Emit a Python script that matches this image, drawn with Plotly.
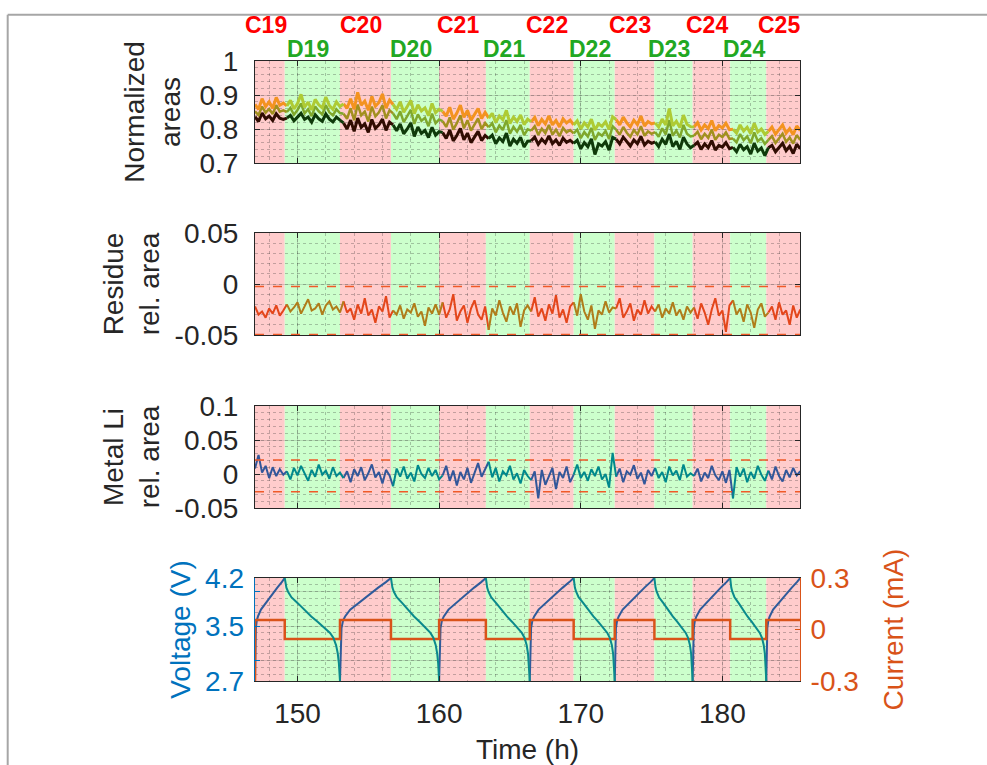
import numpy as np
import plotly.graph_objects as go

# ---------------- data ----------------
phase_names = ["C19", "D19", "C20", "D20", "C21", "D21", "C22", "D22", "C23", "D23", "C24", "D24", "C25"]
phase_bounds = [147.0, 149.1, 153.0, 156.6, 160.0, 163.3, 166.4, 169.5, 172.4, 175.2, 177.9, 180.55, 183.1, 185.5]
t_start = 147.0
t_step = 0.25
x_range = [147.0, 185.48]
x_tickvals = [150, 160, 170, 180]

# normalized areas (x1e-3), one list per phase
area_high = [
    [872, 858, 889, 866, 880, 861, 893, 870, 876],
    [868, 884, 859, 875, 902, 864, 879, 856, 887, 871, 862, 894, 869, 858, 880, 866],
    [874, 861, 889, 858, 908, 870, 882, 855, 896, 867, 878, 903, 861, 885],
    [872, 858, 880, 849, 866, 884, 845, 871, 853, 862, 839, 875, 848, 858],
    [852, 838, 864, 829, 847, 870, 834, 855, 826, 845, 860, 831, 849],
    [832, 846, 819, 838, 827, 855, 816, 835, 822, 841, 813, 829],
    [821, 834, 810, 828, 815, 839, 812, 825, 806, 830, 818, 826],
    [812, 824, 800, 818, 806, 829, 797, 815, 808, 821, 799, 836],
    [828, 812, 835, 818, 806, 826, 813, 838, 809, 822, 815],
    [818, 806, 829, 812, 860, 809, 823, 804, 841, 814, 807],
    [806, 819, 797, 812, 801, 825, 795, 810, 803, 817, 798],
    [799, 788, 812, 794, 805, 786, 817, 791, 800, 784],
    [793, 806, 785, 799, 812, 788, 801, 783, 809, 795],
]
area_mid = [
    [852, 841, 866, 848, 859, 844, 870, 851, 855],
    [850, 862, 842, 856, 875, 846, 858, 838, 866, 852, 843, 870, 849, 840, 858, 847],
    [845, 830, 861, 826, 872, 840, 851, 822, 866, 837, 849, 870, 831, 855],
    [846, 829, 852, 820, 838, 856, 815, 843, 824, 833, 808, 845, 817, 828],
    [823, 806, 834, 798, 817, 840, 802, 826, 795, 814, 831, 800, 818],
    [805, 817, 790, 810, 797, 826, 786, 806, 792, 812, 782, 799],
    [795, 808, 783, 801, 788, 812, 784, 798, 779, 803, 790, 797],
    [787, 798, 773, 791, 778, 803, 768, 788, 780, 794, 771, 808],
    [798, 783, 806, 789, 777, 797, 784, 808, 780, 793, 786],
    [791, 777, 802, 784, 826, 780, 795, 775, 812, 786, 778],
    [780, 792, 770, 786, 774, 798, 768, 783, 776, 790, 771],
    [772, 761, 785, 767, 778, 758, 790, 764, 773, 756],
    [768, 779, 759, 773, 786, 762, 775, 757, 782, 768],
]
area_low = [
    [836, 822, 847, 830, 838, 825, 845, 832, 828],
    [832, 840, 824, 836, 846, 828, 835, 820, 842, 830, 823, 844, 829, 821, 835, 826],
    [818, 800, 826, 793, 832, 805, 815, 790, 828, 802, 812, 829, 796, 820],
    [812, 795, 815, 786, 800, 818, 778, 806, 787, 796, 775, 805, 782, 792],
    [790, 772, 797, 765, 781, 802, 768, 788, 760, 778, 793, 766, 781],
    [772, 782, 757, 774, 763, 788, 750, 770, 758, 776, 747, 764],
    [765, 776, 755, 770, 759, 780, 757, 768, 752, 773, 761, 767],
    [758, 767, 742, 760, 748, 771, 725, 756, 750, 763, 738, 775],
    [770, 756, 776, 762, 750, 768, 757, 778, 753, 764, 758],
    [762, 748, 770, 755, 785, 748, 764, 740, 776, 756, 745],
    [752, 761, 740, 756, 745, 766, 738, 752, 747, 760, 742],
    [746, 733, 755, 739, 748, 726, 758, 735, 744, 722],
    [745, 752, 733, 747, 758, 736, 749, 728, 755, 742],
]
# residue relative area (x1e-3)
residue_rel = [
    [-22, -30, -27, -33, -24, -29, -21, -31, -26],
    [-20, -27, -23, -18, -29, -22, -15, -26, -24, -19, -30, -21, -17, -25, -22, -28],
    [-17, -28, -24, -35, -20, -29, -14, -31, -25, -38, -22, -27, -12, -33],
    [-26, -30, -21, -34, -25, -28, -19, -32, -27, -41, -23, -29, -20, -30],
    [-18, -33, -25, -10, -36, -27, -21, -38, -24, -16, -30, -35, -22],
    [-45, -24, -31, -16, -28, -37, -22, -30, -19, -42, -26, -21],
    [-27, -13, -32, -24, -36, -20, -29, -11, -33, -25, -38, -22],
    [-18, -31, -10, -27, -35, -21, -44, -26, -30, -17, -28, -23],
    [-24, -14, -33, -27, -19, -36, -25, -30, -16, -29, -22],
    [-27, -20, -33, -24, -29, -18, -31, -25, -35, -22, -28],
    [-23, -34, -19, -28, -40, -25, -14, -31, -26, -47, -21],
    [-16, -30, -24, -37, -20, -28, -43, -25, -19, -32],
    [-28, -22, -35, -18, -30, -26, -40, -21, -33, -25],
]
# metal Li relative area (x1e-3)
metal_li_rel = [
    [8, 28, 2, 12, -6, 10, -3, 7, -1],
    [4, -8, 9, -2, 12, 0, -10, 6, -4, 14, -1, 5, -7, 10, -3, 2],
    [-6, 4, -12, 7, -3, 10, -9, 1, 14, -5, 3, -14, 6, -2],
    [-18, 8, -4, 11, -7, 2, -11, 13, 0, -6, 9, -3, 6, -8],
    [-2, 12, -10, 5, -17, 3, -8, 9, -13, 1, 16, -4, 7],
    [18, -5, 9, -11, 4, -2, 12, -8, 1, -14, 6, -3],
    [-9, 4, -36, 6, -16, -2, 9, -22, 3, -6, 11, -12],
    [-1, 14, -6, 3, -10, 7, -3, 11, -8, 0, -20, 31],
    [-4, 8, -12, 4, -1, 13, -7, 2, -15, 6, -3],
    [9, -6, 3, -12, 11, -2, 5, -9, 14, -4, 1],
    [-3, 8, -11, 2, -6, 12, -2, -9, 4, -13, 6],
    [-36, 10, -4, 8, -12, 3, -7, 12, -1, -10],
    [5, -8, 11, -3, -11, 6, -5, 9, -2, 4],
]
residue_limits = [-0.0025, -0.0495]
metal_li_limits = [0.0205, -0.026]

# voltage profile (fraction of phase duration, volts)
charge_frac = [0, 0.01, 0.03, 0.06, 0.1, 0.2, 0.3, 0.45, 0.6, 0.75, 0.9, 1.0]
charge_volt = [2.7, 3.2, 3.47, 3.58, 3.64, 3.74, 3.80, 3.89, 3.98, 4.06, 4.14, 4.2]
discharge_frac = [0, 0.015, 0.03, 0.06, 0.12, 0.24, 0.36, 0.48, 0.60, 0.73, 0.82, 0.88, 0.93, 0.96, 0.98, 1.0]
discharge_volt = [4.2, 4.12, 4.06, 4.0, 3.92, 3.83, 3.73, 3.64, 3.56, 3.47, 3.40, 3.33, 3.22, 3.10, 2.96, 2.7]
current_before = -0.3
current_charge = 0.055
current_discharge = -0.055

y1_ticks, y1_text = [0.7, 0.8, 0.9, 1.0], ["0.7", "0.8", "0.9", "1"]
y2_ticks, y2_text = [-0.05, 0, 0.05], ["-0.05", "0", "0.05"]
y3_ticks, y3_text = [-0.05, 0, 0.05, 0.1], ["-0.05", "0", "0.05", "0.1"]
volt_grid_ticks = [3.0, 3.5, 4.0]
volt_label_ticks, volt_label_text = [2.7, 3.5, 4.2], ["2.7", "3.5", "4.2"]
cur_ticks, cur_text = [-0.3, 0, 0.3], ["-0.3", "0", "0.3"]

# ---------------- style ----------------
FONT = "Liberation Sans, Arial, Helvetica, sans-serif"
FS = 28
DARK = "#262626"
PINK = "rgb(255,204,204)"
GREEN = "rgb(204,255,204)"
BLUE = "#0072BD"
ORANGE = "#D95319"
W, H = 987, 765


def split_phases(nested, scale):
    flat = [v * scale for ph in nested for v in ph]
    t = t_start + t_step * np.arange(len(flat))
    out = {0: ([], []), 1: ([], [])}
    i = 0
    for k, ph in enumerate(nested):
        j = i + len(ph)
        end = min(j + 1, len(flat))
        xs, ys = out[k % 2]
        xs.extend([float(v) for v in t[i:end]] + [None])
        ys.extend(flat[i:end] + [None])
        i = j
    return out


fig = go.Figure()


def add_split(nested, scale, colors, xa, ya, width=2):
    parts = split_phases(nested, scale)
    for kind in (0, 1):
        xs, ys = parts[kind]
        fig.add_trace(go.Scatter(x=xs, y=ys, mode="lines", xaxis=xa, yaxis=ya,
                                 line=dict(color=colors[kind], width=width),
                                 showlegend=False, hoverinfo="skip"))


# panel 1
add_split(area_low, 1e-3, ("#300C02", "#0F3A0A"), "x", "y", 3)
add_split(area_mid, 1e-3, ("#A2901E", "#7FA82C"), "x", "y", 2.5)
add_split(area_high, 1e-3, ("#F39320", "#AECB34"), "x", "y", 3)
# panel 2
add_split(residue_rel, 1e-3, ("#E4461B", "#B07D1A"), "x2", "y2", 2)
# panel 3
add_split(metal_li_rel, 1e-3, ("#33579A", "#00898C"), "x3", "y3", 2)

# panel 4: voltage (charge on the grid axis y4, discharge on the label axis y6 -- same scale)
for kind, color, ya in ((0, "#2F5B9B", "y4"), (1, "#0A8A8C", "y6")):
    xs, ys = [], []
    for k in range(len(phase_names)):
        if k % 2 != kind:
            continue
        a, b = phase_bounds[k], phase_bounds[k + 1]
        fr, vv = (charge_frac, charge_volt) if kind == 0 else (discharge_frac, discharge_volt)
        xs += [a + f * (b - a) for f in fr] + [None]
        ys += list(vv) + [None]
    fig.add_trace(go.Scatter(x=xs, y=ys, mode="lines", xaxis="x4", yaxis=ya,
                             line=dict(color=color, width=2), showlegend=False, hoverinfo="skip"))

# panel 4: current
levels = [current_charge if k % 2 == 0 else current_discharge for k in range(len(phase_names))]
cx = [phase_bounds[0]] + phase_bounds
cy = [current_before] + levels + [levels[-1]]
fig.add_trace(go.Scatter(x=cx, y=cy, mode="lines", line_shape="hv", xaxis="x4", yaxis="y5",
                         line=dict(color=ORANGE, width=2.5), showlegend=False, hoverinfo="skip"))

# ---------------- layout ----------------
xdom = [255 / W, 800 / W]


def ydom(top_px, bot_px):
    return [1 - bot_px / H, 1 - top_px / H]


doms = [ydom(61, 163), ydom(233, 335), ydom(406, 508), ydom(578, 681)]

grid_major = "rgba(38,38,38,0.16)"
grid_minor = "rgba(38,38,38,0.28)"
tickfont = dict(family=FONT, size=FS, color=DARK)

layout = dict(template="none", width=W, height=H, margin=dict(l=0, r=0, t=0, b=0, autoexpand=False),
              paper_bgcolor="white", plot_bgcolor="rgba(0,0,0,0)",
              font=dict(family=FONT, size=FS, color=DARK), showlegend=False)

for n in range(1, 5):
    key = "xaxis" if n == 1 else f"xaxis{n}"
    ya = "y" if n == 1 else f"y{n}"
    layout[key] = dict(domain=xdom, anchor=ya, range=x_range, tickvals=x_tickvals, automargin=False,
                       showticklabels=(n == 4), ticks="inside", ticklen=5, tickcolor=DARK,
                       showline=True, linecolor=DARK, linewidth=1, mirror="ticks",
                       showgrid=True, gridcolor=grid_major, gridwidth=1,
                       minor=dict(dtick=2, tick0=150, showgrid=True, gridcolor=grid_minor,
                                  griddash="dot", gridwidth=1),
                       zeroline=False, tickfont=tickfont, ticklabelstandoff=7,
                       matches=None if n == 1 else "x")
layout["xaxis4"]["title"] = dict(text="Time (h)", font=dict(family=FONT, size=FS, color=DARK), standoff=13)


def yax(dom, xa, rng, tv, tt, title, minor_dtick, standoff):
    return dict(domain=dom, anchor=xa, range=rng, tickvals=tv, ticktext=tt, automargin=False,
                ticks="inside", ticklen=5, tickcolor=DARK, showline=True, linecolor=DARK,
                linewidth=1, mirror="ticks", showgrid=True, gridcolor=grid_major,
                minor=dict(dtick=minor_dtick, showgrid=True, gridcolor=grid_minor,
                           griddash="dot", gridwidth=1),
                zeroline=False, tickfont=tickfont, ticklabelstandoff=10,
                title=dict(text=title, font=dict(family=FONT, size=FS, color=DARK), standoff=standoff))


layout["yaxis"] = yax(doms[0], "x", [0.7, 1.0], y1_ticks, y1_text, "Normalized<br>areas", 0.02, 10)
layout["yaxis2"] = yax(doms[1], "x2", [-0.05, 0.05], y2_ticks, y2_text, "Residue<br>rel. area", 0.01, 6)
layout["yaxis3"] = yax(doms[2], "x3", [-0.05, 0.1], y3_ticks, y3_text, "Metal Li<br>rel. area", 0.01, 6)
layout["yaxis4"] = dict(domain=doms[3], anchor="x4", range=[2.7, 4.2], tickvals=volt_grid_ticks,
                        automargin=False, showticklabels=False, ticks="inside", ticklen=5, tickcolor=BLUE,
                        showline=True, linecolor=BLUE, linewidth=1, mirror=False,
                        showgrid=True, gridcolor=grid_major,
                        minor=dict(dtick=0.1, tick0=2.7, showgrid=True, gridcolor=grid_minor,
                                   griddash="dot", gridwidth=1),
                        zeroline=False)
layout["yaxis6"] = dict(domain=doms[3], anchor="x4", overlaying="y4", side="left", range=[2.7, 4.2],
                        tickvals=volt_label_ticks, ticktext=volt_label_text, ticks="", automargin=False,
                        showline=False, showgrid=False, zeroline=False,
                        tickfont=dict(family=FONT, size=FS, color=BLUE), ticklabelstandoff=10,
                        title=dict(text="Voltage (V)", font=dict(family=FONT, size=FS, color=BLUE), standoff=6))
layout["yaxis5"] = dict(domain=doms[3], anchor="x4", overlaying="y4", side="right", range=[-0.3, 0.3],
                        tickvals=cur_ticks, ticktext=cur_text, ticks="inside", ticklen=5, tickcolor=ORANGE,
                        automargin=False, showline=True, linecolor=ORANGE, linewidth=1, showgrid=False,
                        zeroline=False, tickfont=dict(family=FONT, size=FS, color=ORANGE), ticklabelstandoff=4,
                        title=dict(text="Current (mA)", font=dict(family=FONT, size=FS, color=ORANGE), standoff=25))

shapes = []
for n in range(1, 5):
    xr = "x" if n == 1 else f"x{n}"
    yr = "y" if n == 1 else f"y{n}"
    for k in range(len(phase_names)):
        shapes.append(dict(type="rect", xref=xr, yref=f"{yr} domain", x0=phase_bounds[k],
                           x1=phase_bounds[k + 1], y0=0, y1=1, fillcolor=PINK if k % 2 == 0 else GREEN,
                           line=dict(width=0), layer="below"))
for yr, lims in (("y2", residue_limits), ("y3", metal_li_limits)):
    for v in lims:
        shapes.append(dict(type="line", xref=f"x{yr[1]} domain", yref=yr, x0=0, x1=1, y0=v, y1=v,
                           line=dict(color="#F05A28", width=1.5, dash="dash"), layer="above"))
# outer grey frame of the figure window
shapes.append(dict(type="line", xref="paper", yref="paper", x0=7.7 / W, x1=1, y0=1 - 14.8 / H, y1=1 - 14.8 / H,
                   line=dict(color="#A6A6A6", width=2)))
shapes.append(dict(type="line", xref="paper", yref="paper", x0=7.7 / W, x1=7.7 / W, y0=0, y1=1 - 14.8 / H,
                   line=dict(color="#A6A6A6", width=2)))
layout["shapes"] = shapes

ann = []
for k, name in enumerate(phase_names):
    mid = 0.5 * (phase_bounds[k] + phase_bounds[k + 1]) - 0.3
    ann.append(dict(x=mid, xref="x", y=1 - (25 if k % 2 == 0 else 49) / H, yref="paper",
                    text=f"<b>{name}</b>", showarrow=False, xanchor="center", yanchor="middle",
                    font=dict(family=FONT, size=23, color="#FF0000" if k % 2 == 0 else "#22A822")))
layout["annotations"] = ann

fig.update_layout(**layout)
fig.write_html("out.html", config={"displayModeBar": False},
               post_script="document.body.style.margin='0';")
